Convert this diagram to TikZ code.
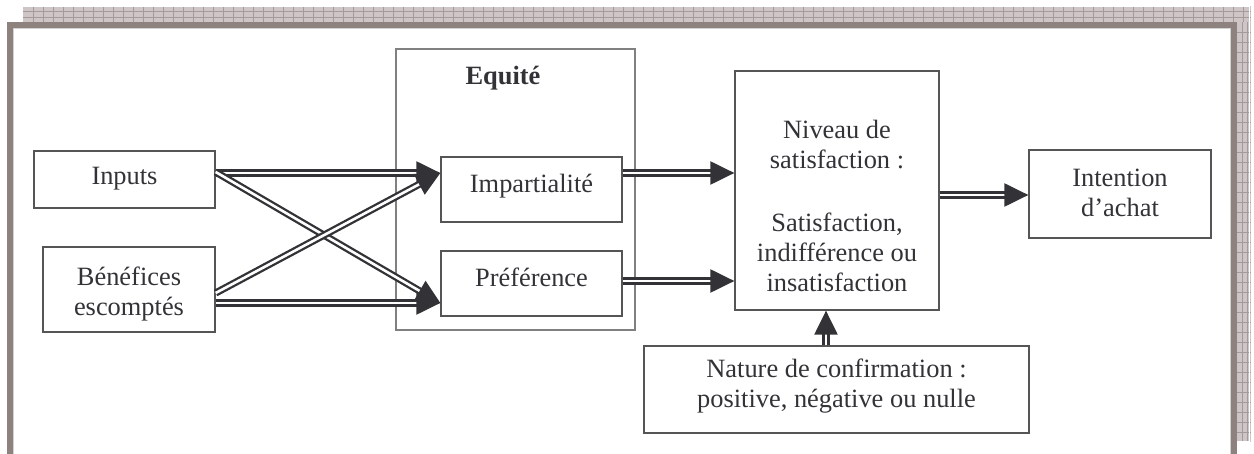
\documentclass[tikz,border=0pt]{standalone}
\usepackage{fontspec}
\setmainfont{Liberation Serif}
\usetikzlibrary{arrows.meta}
\definecolor{ink}{RGB}{50,50,55}
\definecolor{framec}{RGB}{142,130,126}
\definecolor{pat}{RGB}{206,198,198}
\definecolor{patline}{RGB}{165,153,153}
\definecolor{boxline}{RGB}{85,85,85}
\definecolor{outerline}{RGB}{128,128,128}
\begin{document}
\begin{tikzpicture}[x=0.5pt,y=-0.5pt,
  box/.style={draw=boxline, line width=0.65pt, inner sep=0pt, rectangle},
  txt/.style={text=ink, inner sep=0pt, anchor=base, align=center, font=\fontsize{13.2}{15}\selectfont},
  dbl/.style={draw=ink, line width=1.15pt, double=white, double distance=1.3pt,
    -{Triangle[length=12pt,width=11.5pt]}}]
\useasboundingbox (0,0) rectangle (1254,454);
% decorative frame
\fill[pat] (23,6) rectangle (1251,22);
\fill[pat] (1237,22) rectangle (1251,442);
\foreach \x in {33,43,...,1243} \draw[patline, line width=0.35pt] (\x,6) -- (\x,22);
\foreach \y in {11,17} \draw[patline, line width=0.35pt] (23,\y) -- (1251,\y);
\foreach \y in {32,42,...,432} \draw[patline, line width=0.35pt] (1237,\y) -- (1251,\y);
\foreach \x in {1242,1247} \draw[patline, line width=0.35pt] (\x,22) -- (\x,442);
\draw[white, line width=0.5pt] (23,6.5) -- (1249.5,6.5) -- (1249.5,441.5) -- (1237,441.5);
\fill[framec] (7,22) rectangle (1237,28);
\fill[framec] (7,22) rectangle (13,454);
\fill[framec] (1231,22) rectangle (1237,454);
\draw[gray!35, line width=0.5pt] (13.5,454) -- (13.5,28.5) -- (1230.5,28.5) -- (1230.5,454);
% boxes
\node[box, draw=outerline, minimum width=119.5pt, minimum height=140.5pt] (equite) at (515.5,189.5) {};
\node[box, minimum width=90.5pt, minimum height=28.5pt] (inputs) at (124.5,179.5) {};
\node[box, minimum width=86pt, minimum height=42.5pt] (benef) at (129,289.5) {};
\node[box, minimum width=90.5pt, minimum height=32.5pt] (imp) at (531.5,189.5) {};
\node[box, minimum width=90.5pt, minimum height=32.5pt] (pref) at (531.5,283.5) {};
\node[box, minimum width=102pt, minimum height=119.5pt] (niveau) at (837,190.5) {};
\node[box, minimum width=91pt, minimum height=44pt] (intention) at (1120,194) {};
\node[box, minimum width=192.5pt, minimum height=43.5pt] (nature) at (836.5,389.5) {};
% texts (base = baseline of last line)
\node[txt] (t-inputs) at (124.5,185) {Inputs};
\node[txt] (t-benef) at (129,316) {Bénéfices\\escomptés};
\node[txt, font=\fontsize{13.2}{15}\selectfont\bfseries] (t-equite) at (503,85) {Equité};
\node[txt] (t-imp) at (531.5,193) {Impartialité};
\node[txt] (t-pref) at (531.5,287) {Préférence};
\node[txt] (t-niv1) at (837,169) {Niveau de\\satisfaction :};
\node[txt] (t-niv2) at (837,292) {Satisfaction,\\indifférence ou\\insatisfaction};
\node[txt] (t-int) at (1120,217) {Intention\\d’achat};
\node[txt] (t-nat) at (836.5,408) {Nature de confirmation :\\positive, négative ou nulle};
% connectors
\draw[dbl] ([yshift=3.25pt]inputs.east) -- ([yshift=8.25pt]imp.west);
\draw[dbl] ([yshift=3.75pt]inputs.east) -- ([yshift=-9.75pt]pref.west);
\draw[dbl] ([yshift=-1.75pt]benef.east) -- ([yshift=8.25pt]imp.west);
\draw[dbl] ([yshift=-6.75pt]benef.east) -- ([yshift=-9.75pt]pref.west);
\draw[dbl] ([yshift=8.25pt]imp.east) -- ([yshift=8.75pt]niveau.west);
\draw[dbl] ([yshift=1.25pt]pref.east) -- ([yshift=-45.25pt]niveau.west);
\draw[dbl] ([yshift=-2.25pt]niveau.east) -- ([yshift=-0.5pt]intention.west);
\draw[dbl] ([xshift=-5.25pt]nature.north) -- ([xshift=-5.5pt]niveau.south);
\end{tikzpicture}
\end{document}
